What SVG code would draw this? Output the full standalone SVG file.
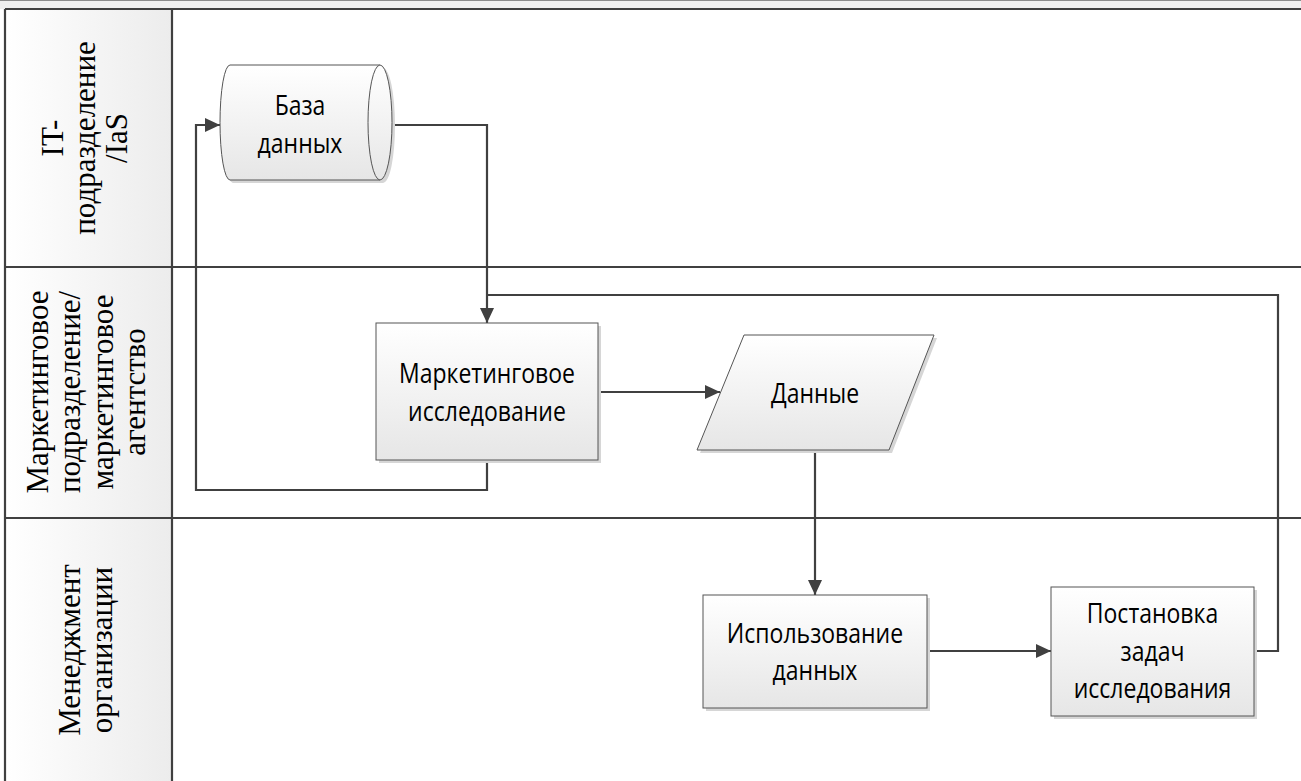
<svg xmlns="http://www.w3.org/2000/svg" width="1301" height="781" viewBox="0 0 1301 781">
  <defs>
    <linearGradient id="nodeFill" x1="0" y1="0" x2="0" y2="1">
      <stop offset="0" stop-color="#ffffff"/>
      <stop offset="1" stop-color="#e6e6e6"/>
    </linearGradient>
    <linearGradient id="headFill" x1="0" y1="0" x2="1" y2="0">
      <stop offset="0" stop-color="#ffffff"/>
      <stop offset="1" stop-color="#ececec"/>
    </linearGradient>
    <marker id="arrow" markerUnits="userSpaceOnUse" markerWidth="16" markerHeight="14" refX="15" refY="7" orient="auto">
      <path d="M0,0 L15,7 L0,14 z" fill="#404040"/>
    </marker>
  </defs>
  <style>
    .lane { stroke: #404040; stroke-width: 2.2; fill: none; }
    .node { fill: url(#nodeFill); stroke: #555555; stroke-width: 1; }
    .shadow { fill: #d6d6d6; stroke: none; }
    .conn { stroke: #404040; stroke-width: 2.2; fill: none; }
    .label { font-family: "Open Sans", "Noto Sans", sans-serif; font-size: 23px; fill: #000000; text-anchor: middle; }
    .head { font-family: "Liberation Serif", "Times New Roman", serif; font-size: 31px; fill: #000000; text-anchor: middle; }
  </style>

  <rect width="1301" height="781" fill="#ffffff"/>

  <g id="pool">
    <rect x="0" y="0" width="1301" height="9" fill="#f0f0f0"/>
    <line x1="0" y1="0.5" x2="1301" y2="0.5" stroke="#8c8c8c" stroke-width="1"/>
    <rect x="5" y="9" width="167" height="772" fill="url(#headFill)"/>
    <line class="lane" x1="5" y1="9" x2="1301" y2="9"/>
    <line class="lane" x1="5" y1="267" x2="1301" y2="267"/>
    <line class="lane" x1="5" y1="518" x2="1301" y2="518"/>
    <line class="lane" x1="5" y1="9" x2="5" y2="781"/>
    <line class="lane" x1="172" y1="9" x2="172" y2="781"/>
  </g>

  <g id="lane-it">
    <text class="head" transform="translate(63,138) rotate(-90)">IT-</text>
    <text class="head" transform="translate(95,138) rotate(-90)">подразделение</text>
    <text class="head" transform="translate(127,138) rotate(-90)">/IaS</text>
  </g>
  <g id="lane-marketing">
    <text class="head" transform="translate(48,392) rotate(-90)">Маркетинговое</text>
    <text class="head" transform="translate(80,392) rotate(-90)">подразделение/</text>
    <text class="head" transform="translate(113,392) rotate(-90)">маркетинговое</text>
    <text class="head" transform="translate(145,392) rotate(-90)">агентство</text>
  </g>
  <g id="lane-management">
    <text class="head" transform="translate(80,650) rotate(-90)">Менеджмент</text>
    <text class="head" transform="translate(112,650) rotate(-90)">организации</text>
  </g>

  <g id="connectors">
    <path class="conn" d="M379,125 H487 V323" marker-end="url(#arrow)"/>
    <path class="conn" d="M1254,651 H1278 V295 H487"/>
    <path class="conn" d="M487,460 V490 H196 V125 H220" marker-end="url(#arrow)"/>
    <path class="conn" d="M598,392 H720" marker-end="url(#arrow)"/>
    <path class="conn" d="M815,450 V595" marker-end="url(#arrow)"/>
    <path class="conn" d="M927,651 H1051" marker-end="url(#arrow)"/>
  </g>

  <g id="node-database">
    <path class="shadow" d="M233,68 H383 A12,57.5 0 0 1 383,183 H233 A10,57.5 0 0 1 233,68 z"/>
    <path class="node" d="M230,65 H380 A12,57.5 0 0 1 380,180 H230 A10,57.5 0 0 1 230,65 z"/>
    <path class="node" d="M380,65 A12,57.5 0 0 0 380,180" fill="none"/>
    <text class="label" transform="translate(300,115) scale(1,1.2)">База</text>
    <text class="label" transform="translate(300,153) scale(1,1.2)">данных</text>
  </g>

  <g id="node-research">
    <rect class="shadow" x="379" y="326" width="222" height="137"/>
    <rect class="node" x="376" y="323" width="222" height="137"/>
    <text class="label" transform="translate(487,383) scale(1,1.2)">Маркетинговое</text>
    <text class="label" transform="translate(487,421) scale(1,1.2)">исследование</text>
  </g>

  <g id="node-data">
    <polygon class="shadow" points="747,338 937,338 892,453 700,453"/>
    <polygon class="node" points="744,335 934,335 889,450 697,450"/>
    <text class="label" transform="translate(815,403) scale(1,1.2)">Данные</text>
  </g>

  <g id="node-usage">
    <rect class="shadow" x="706" y="598" width="224" height="113"/>
    <rect class="node" x="703" y="595" width="224" height="113"/>
    <text class="label" transform="translate(815,643) scale(1,1.2)">Использование</text>
    <text class="label" transform="translate(815,680) scale(1,1.2)">данных</text>
  </g>

  <g id="node-tasks">
    <rect class="shadow" x="1054" y="590" width="203" height="129"/>
    <rect class="node" x="1051" y="587" width="203" height="129"/>
    <text class="label" transform="translate(1152.5,623) scale(1,1.2)">Постановка</text>
    <text class="label" transform="translate(1152.5,661) scale(1,1.2)">задач</text>
    <text class="label" transform="translate(1152.5,698) scale(1,1.2)">исследования</text>
  </g>
</svg>
